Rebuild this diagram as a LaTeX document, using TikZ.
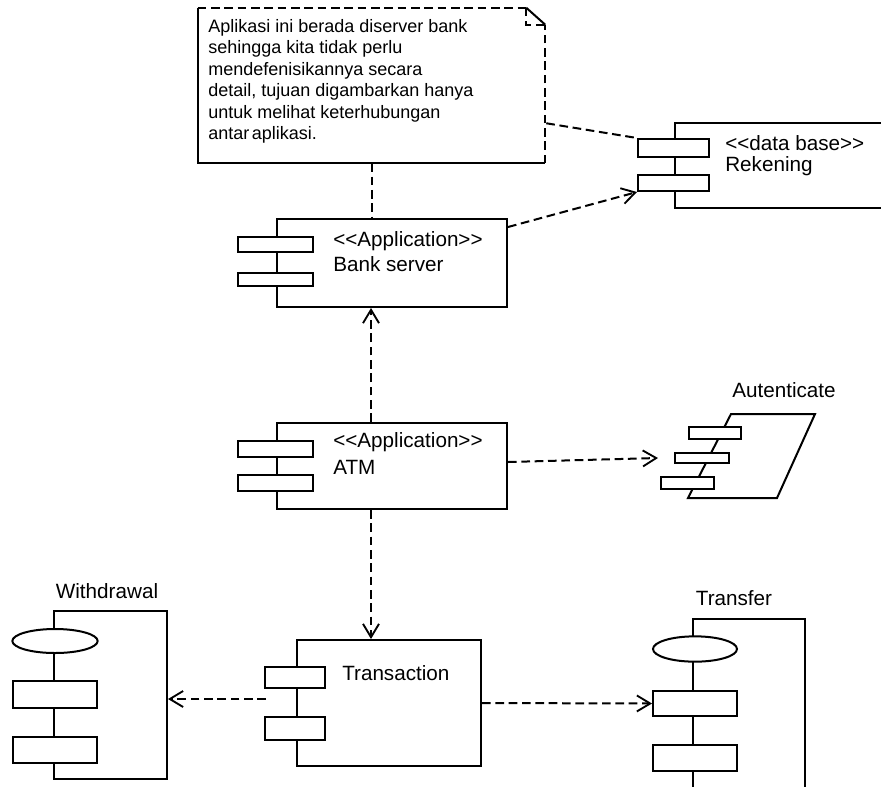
\documentclass[tikz,border=0pt]{standalone}
\usepackage{fontspec}
\setmainfont{Liberation Sans}
\usetikzlibrary{fit,calc,arrows.meta,shapes.geometric}
\begin{document}
\begin{tikzpicture}[x=0.75pt,y=-0.75pt,
  box/.style={draw, line width=1.5pt, fill=white, inner sep=0pt},
  area/.style={inner sep=0pt},
  lbl/.style={inner sep=0pt, anchor=west, font=\fontsize{15.5}{18}\selectfont},
  title/.style={inner sep=0pt, font=\fontsize{15.5}{18}\selectfont},
  solidline/.style={line width=1.5pt},
  dep/.style={line width=1.5pt, dash pattern=on 6.5pt off 3.5pt},
  deparrow/.style={dep, -{Straight Barb[length=10pt,width=12pt,line width=1.4pt]}},
  blob/.style={draw, ellipse, line width=1.5pt, fill=white, inner sep=0pt}
]
\useasboundingbox (0,0) rectangle (881,786);
\clip (0,0) rectangle (881,786);

% ---------- Note ----------
\node[area, fit={(198,8) (545,163)}] (note) {};
\draw[solidline] (note.north west) -- (note.south west) -- (note.south east);
\draw[dep] (note.north west) -- ($(note.north east)+(-19,0)$) coordinate (fold);
\draw[dep] (note.south east) -- ($(note.north east)+(0,17)$) coordinate (foldb);
\draw[solidline] (fold) -- (foldb);
\draw[dep] (fold) -- (fold |- foldb) -- (foldb);
\node[anchor=north west, inner sep=0pt, align=left, font=\fontsize{13.5}{16.1}\selectfont] (notetext) at (208,19)
 {Aplikasi ini berada diserver bank\\sehingga kita tidak perlu\\mendefenisikannya secara\\detail, tujuan digambarkan hanya\\untuk melihat keterhubungan\\antar\hspace{0.15em}aplikasi.};

% ---------- Rekening ----------
\node[area, fit={(675,123) (900,208)}] (rek) {};
\draw[solidline] (rek.north east) -- (rek.north west) -- (rek.south west) -- (rek.south east);
\node[box, fit={(638,139) (709,157)}] (rp1) {};
\node[box, fit={(638,175) (709,191)}] (rp2) {};
\node[lbl] (rekst) at (725,143) {<{}<data base>{}>};
\node[lbl] (rekname) at (725,166) {Rekening};

% ---------- Bank server ----------
\node[box, fit={(277,219) (507,307)}] (bank) {};
\node[box, fit={(238,237) (313,252)}] (bp1) {};
\node[box, fit={(238,273) (313,286)}] (bp2) {};
\node[lbl] (bankst) at (333,241) {<{}<Application>{}>};
\node[lbl] (bankname) at (333,264) {Bank server};

% ---------- ATM ----------
\node[box, fit={(277,423) (507,509)}] (atm) {};
\node[box, fit={(238,441) (313,457)}] (ap1) {};
\node[box, fit={(238,475) (313,491)}] (ap2) {};
\node[lbl] (atmst) at (333,442) {<{}<Application>{}>};
\node[lbl] (atmname) at (333,467) {ATM};

% ---------- Autenticate ----------
\draw[solidline] (731,414) coordinate (au1) -- (815,414) coordinate (au2) -- (777,498) coordinate (au3) -- (688,498) coordinate (au4) -- cycle;
\node[box, fit={(689,427) (741,439)}] (up1) {};
\node[box, fit={(675,453) (729,463)}] (up2) {};
\node[box, fit={(661,477) (714,489)}] (up3) {};
\node[title] (autname) at (784,390) {Autenticate};

% ---------- Transaction ----------
\node[box, fit={(297,640) (481,766)}] (trans) {};
\node[box, fit={(265,667) (325,688)}] (tp1) {};
\node[box, fit={(265,717) (325,740)}] (tp2) {};
\node[lbl] (transname) at (342,673) {Transaction};

% ---------- Withdrawal ----------
\node[box, fit={(54,611) (167,779)}] (wd) {};
\node[blob, minimum width=64pt, minimum height=18pt] (we) at (55,641) {};
\node[box, fit={(13,681) (97,708)}] (wp1) {};
\node[box, fit={(13,737) (97,763)}] (wp2) {};
\node[title] (wdname) at (107,591) {Withdrawal};

% ---------- Transfer ----------
\node[area, fit={(693,619) (805,800)}] (tf) {};
\draw[solidline] (tf.south west) -- (tf.north west) -- (tf.north east) -- (tf.south east);
\node[blob, minimum width=63pt, minimum height=19pt] (te) at (695,649) {};
\node[box, fit={(653,691) (737,716)}] (trp1) {};
\node[box, fit={(653,745) (737,771)}] (trp2) {};
\node[title] (tfname) at (734,598) {Transfer};

% ---------- Connectors ----------
\coordinate (ns) at ($(note.south)+(0.5,0)$);
\draw[dep] (ns) -- (ns |- bank.north);
\draw[dep] ($(note.south east)+(1,-40)$) -- (rp1.north west);
\draw[deparrow] ($(bank.north east)+(0,9)$) -- (rp2.south west);
\draw[deparrow] ($(atm.north west)+(95,0)$) -- ($(bank.south west)+(95,0)$);
\draw[deparrow] ($(atm.east)+(0,-4)$) -- ($(up2.west)+(-16,0)$);
\draw[deparrow] ($(atm.south west)+(95,0)$) -- ($(trans.north west)+(75,0)$);
\coordinate (ts) at ($(tp1.south west)+(2,10)$);
\draw[deparrow] (ts) -- (ts -| wd.east);
\draw[deparrow] (trans.east) -- (trp1.west);
\end{tikzpicture}
\end{document}
